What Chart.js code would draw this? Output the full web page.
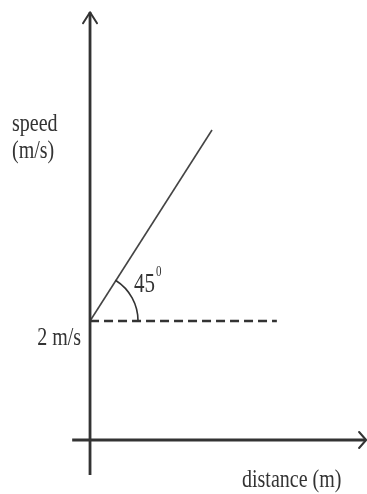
<!DOCTYPE html>
<html>
<head>
<meta charset="utf-8">
<script src="https://cdn.jsdelivr.net/npm/chart.js@4/dist/chart.umd.min.js"></script>
<style>
  html, body { margin: 0; padding: 0; background: #fff; }
  #wrap { width: 367px; height: 494px; }
</style>
</head>
<body>
<div id="wrap"><canvas id="graph" width="367" height="494"></canvas></div>
<script>
'use strict';
// speed vs distance sketch, values in m and m/s
var startSpeed = 2;
var lineX = [0, 2.05];
var lineY = [2, 5.21];
var dashX = [0, 3.14];
var dashY = [2, 2];
var xAxisX = [-0.30, 4.64];
var yAxisY = [-0.59, 7.19];
var angleLabel = '45';
var speedLabel = ['speed', '(m/s)'];
var distLabel = 'distance (m)';
var tickLabel = startSpeed + ' m/s';

function pts(xs, ys) {
  var out = [];
  for (var i = 0; i < xs.length; i++) {
    out.push({x: xs[i], y: ys[i]});
  }
  return out;
}

var ink = '#333';
var serif = '"Liberation Serif", "DejaVu Serif", serif';

// the scanned text looks stretched upwards, so squash it a bit taller
function tallText(ctx, str, x, y, size, align) {
  ctx.save();
  ctx.translate(x, y);
  ctx.scale(1, 1.25);
  ctx.font = size + 'px ' + serif;
  ctx.textAlign = align;
  ctx.textBaseline = 'alphabetic';
  ctx.fillText(str, 0, 0);
  ctx.restore();
}

// arrows, angle arc and the text labels
var sketchPlugin = {
  id: 'sketch',
  afterDatasetsDraw: function(chart) {
    var ctx = chart.ctx;
    var xs = chart.scales.x;
    var ys = chart.scales.y;
    var ox = xs.getPixelForValue(0);
    var oy = ys.getPixelForValue(0);
    ctx.save();
    ctx.strokeStyle = ink;
    ctx.lineWidth = 2;
    ctx.lineCap = 'round';
    ctx.lineJoin = 'round';

    // arrow heads
    var tx = xs.getPixelForValue(xAxisX[1]);
    ctx.beginPath();
    ctx.moveTo(tx - 7, oy - 8);
    ctx.lineTo(tx, oy);
    ctx.lineTo(tx - 7, oy + 8);
    ctx.stroke();
    var ty = ys.getPixelForValue(yAxisY[1]);
    ctx.beginPath();
    ctx.moveTo(ox - 7, ty + 11);
    ctx.lineTo(ox, ty);
    ctx.lineTo(ox + 7, ty + 11);
    ctx.stroke();

    // angle arc
    var cx = xs.getPixelForValue(lineX[0]);
    var cy = ys.getPixelForValue(lineY[0]);
    var ex = xs.getPixelForValue(lineX[1]);
    var ey = ys.getPixelForValue(lineY[1]);
    var a = Math.atan2(ey - cy, ex - cx);
    ctx.lineWidth = 1.6;
    ctx.beginPath();
    ctx.arc(cx, cy, 48, a, 0);
    ctx.stroke();

    // texts
    ctx.fillStyle = '#333';
    tallText(ctx, speedLabel[0], 12, 131, 20, 'left');
    tallText(ctx, speedLabel[1], 12, 158, 20, 'left');
    tallText(ctx, tickLabel, ox - 9, ys.getPixelForValue(startSpeed) + 24, 20, 'right');
    tallText(ctx, distLabel, 242, 487, 20, 'left');
    tallText(ctx, angleLabel, cx + 44, cy - 29, 21, 'left');
    tallText(ctx, '0', cx + 66, cy - 45, 11, 'left');
    ctx.restore();
  }
};

var lineStyle = {showLine: true, pointRadius: 0, fill: false, borderColor: ink};

new Chart(document.getElementById('graph'), {
  type: 'scatter',
  data: {
    datasets: [
      Object.assign({label: 'x axis', data: pts(xAxisX, [0, 0]), borderWidth: 3}, lineStyle),
      Object.assign({label: 'y axis', data: pts([0, 0], yAxisY), borderWidth: 2.8}, lineStyle),
      Object.assign({label: 'speed', data: pts(lineX, lineY), borderWidth: 1.6, borderColor: '#444'}, {showLine: true, pointRadius: 0, fill: false}),
      Object.assign({label: 'reference', data: pts(dashX, dashY), borderWidth: 2.5, borderDash: [9, 5]}, lineStyle)
    ]
  },
  options: {
    responsive: false,
    animation: false,
    layout: {padding: 0},
    plugins: {legend: {display: false}, tooltip: {enabled: false}},
    scales: {
      x: {type: 'linear', display: false, min: -1.513, max: 4.655},
      y: {type: 'linear', display: false, min: -0.908, max: 7.395}
    }
  },
  plugins: [sketchPlugin]
});
</script>
</body>
</html>
